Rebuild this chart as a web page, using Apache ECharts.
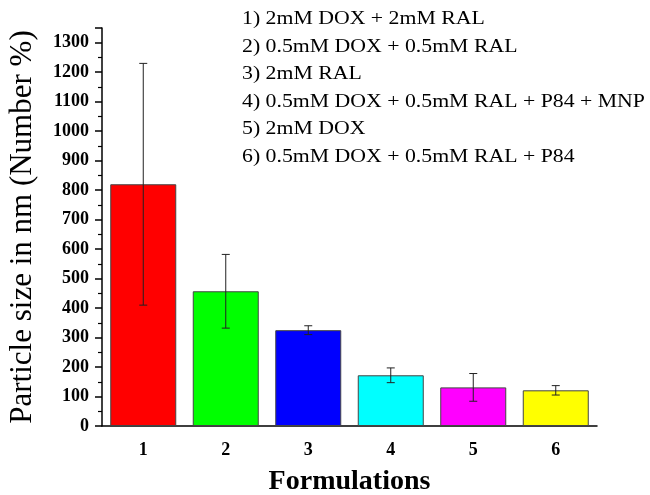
<!DOCTYPE html>
<html>
<head>
<meta charset="utf-8">
<script src="https://cdn.jsdelivr.net/npm/echarts@6/dist/echarts.min.js"></script>
<style>html,body{margin:0;padding:0;background:#fff;}#main{width:650px;height:495px;}</style>
</head>
<body>
<div id="main"></div>
<script>
const categories = ['1', '2', '3', '4', '5', '6'];
const sizes = [820, 457, 325, 172, 131, 121];
const errors = [410, 125, 15, 25, 47, 16];
const barColors = ['#ff0000', '#00ff00', '#0000ff', '#00ffff', '#ff00ff', '#ffff00'];
const yTicks = [0, 100, 200, 300, 400, 500, 600, 700, 800, 900, 1000, 1100, 1200, 1300];
const legendLines = [
  '1) 2mM DOX + 2mM RAL',
  '2) 0.5mM DOX + 0.5mM RAL',
  '3) 2mM RAL',
  '4) 0.5mM DOX + 0.5mM RAL + P84 + MNP',
  '5) 2mM DOX',
  '6) 0.5mM DOX + 0.5mM RAL + P84'
];
const xTitle = 'Formulations';
const yTitle = 'Particle size in nm (Number %)';

const serif = '"Liberation Serif", "Times New Roman", serif';
const chart = echarts.init(document.getElementById('main'), null, {renderer: 'canvas'});

const barData = sizes.map((v, i) => ({value: v, itemStyle: {color: barColors[i]}}));
const errData = sizes.map((v, i) => [i, v - errors[i], v + errors[i]]);

chart.setOption({
  backgroundColor: '#ffffff',
  animation: false,
  grid: {left: 102, right: 53, top: 28, bottom: 69, containLabel: false, outerBoundsMode: 'none'},
  xAxis: [{
    type: 'category',
    data: categories,
    position: 'bottom',
    name: xTitle,
    nameLocation: 'middle',
    nameGap: 42,
    nameTextStyle: {fontFamily: serif, fontSize: 28, fontWeight: 'bold', color: '#000'},
    axisLine: {lineStyle: {color: '#000', width: 1.5}},
    axisTick: {alignWithLabel: true, length: 7, lineStyle: {color: '#000', width: 1.5}},
    axisLabel: {fontFamily: serif, fontSize: 18, fontWeight: 'bold', color: '#000', margin: 15},
    splitLine: {show: false}
  }, {
    type: 'category',
    data: categories,
    position: 'bottom',
    axisLine: {show: false},
    axisTick: {length: 4, lineStyle: {color: '#000', width: 1.2}},
    axisLabel: {show: false},
    splitLine: {show: false}
  }],
  yAxis: {
    type: 'value',
    min: 0,
    max: 1350,
    interval: 100,
    axisLine: {show: true, lineStyle: {color: '#000', width: 1.5}},
    axisTick: {show: true, length: 7, lineStyle: {color: '#000', width: 1.5}},
    minorTick: {show: true, splitNumber: 2, length: 4, lineStyle: {color: '#000', width: 1.2}},
    axisLabel: {
      fontFamily: serif, fontSize: 18, fontWeight: 'bold', color: '#000', margin: 13,
      formatter: v => (yTicks.indexOf(v) >= 0 ? String(v) : '')
    },
    splitLine: {show: false},
    name: yTitle,
    nameLocation: 'middle',
    nameGap: 64,
    nameTextStyle: {fontFamily: serif, fontSize: 31, color: '#000'}
  },
  series: [{
    type: 'bar',
    xAxisIndex: 0,
    data: barData,
    barCategoryGap: '20%',
    itemStyle: {borderColor: '#444', borderWidth: 1}
  }, {
    type: 'custom',
    xAxisIndex: 0,
    data: errData,
    z: 5,
    renderItem: function (params, api) {
      const idx = api.value(0);
      const lo = api.coord([idx, api.value(1)]);
      const hi = api.coord([idx, api.value(2)]);
      const hw = 4;
      const style = {stroke: '#222', lineWidth: 1};
      return {
        type: 'group',
        children: [
          {type: 'line', shape: {x1: hi[0], y1: hi[1], x2: lo[0], y2: lo[1]}, style: style},
          {type: 'line', shape: {x1: hi[0] - hw, y1: hi[1], x2: hi[0] + hw, y2: hi[1]}, style: style},
          {type: 'line', shape: {x1: lo[0] - hw, y1: lo[1], x2: lo[0] + hw, y2: lo[1]}, style: style}
        ]
      };
    }
  }],
  graphic: [{
    type: 'text',
    x: 242,
    y: 6,
    scaleX: 1.21,
    scaleY: 1,
    style: {
      text: legendLines.join('\n'),
      fontFamily: serif,
      fontSize: 18,
      lineHeight: 27.5,
      fill: '#000'
    }
  }]
});
</script>
</body>
</html>
